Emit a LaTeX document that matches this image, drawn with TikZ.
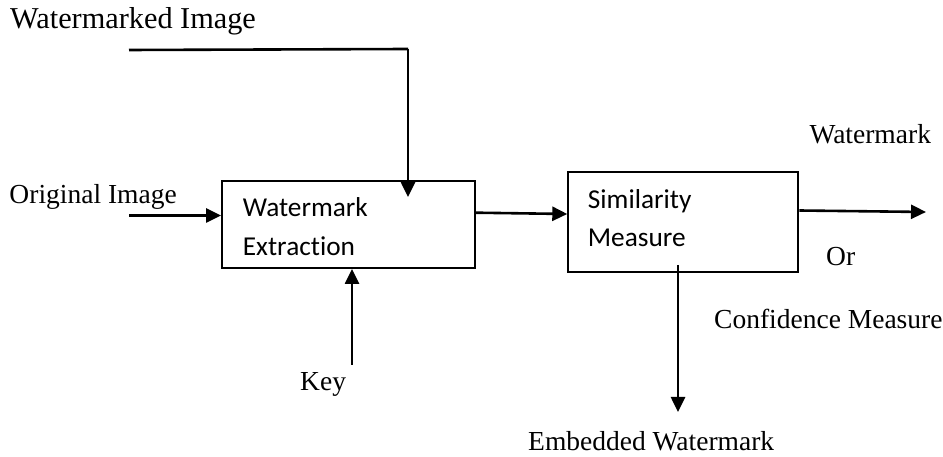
\documentclass[tikz,border=0pt]{standalone}
\usepackage{fontspec}
\setmainfont{Liberation Serif}
\newfontfamily\boxfont[Ligatures=NoCommon]{Carlito}
\usetikzlibrary{arrows.meta}
\tikzset{
  blk/.style={draw, line width=2bp, rectangle, inner sep=0pt},
  lbl/.style={anchor=base west, inner sep=0pt, font=\fontsize{27.5bp}{33bp}\selectfont},
  blbl/.style={anchor=base west, inner sep=0pt, font=\boxfont\fontsize{27.3bp}{32bp}\selectfont},
  conn/.style={line width=2.6bp, -{Triangle[length=15bp,width=14bp]}},
  plain/.style={line width=2.6bp}
}
\begin{document}
\begin{tikzpicture}[x=1bp,y=-1bp]
\useasboundingbox (0,0) rectangle (943,457);
% boxes
\node[blk, minimum width=253bp, minimum height=87bp] (ext) at (348.5,224.5) {};
\node[blk, minimum width=230bp, minimum height=100bp] (sim) at (683.3,221.7) {};
% box texts
\node[blbl] (t1) at (242.7,216.7) {Watermark};
\node[blbl] (t2) at (242.7,256) {Extraction};
\node[blbl] (t3) at (587.7,208.3) {Similarity};
\node[blbl] (t4) at (587.7,246.7) {Measure};
% outside labels
\node[lbl, font=\fontsize{30.3bp}{36bp}\selectfont] (wmi) at (10,28.3) {Watermarked Image};
\node[lbl] (ori) at (9.3,204) {Original Image};
\node[lbl] (key) at (300,390.7) {Key};
\node[lbl] (wm) at (809.3,143.3) {Watermark};
\node[lbl] (or) at (826,266) {Or};
\node[lbl] (conf) at (714,328.3) {Confidence Measure};
\node[lbl] (emb) at (528,450) {Embedded Watermark};
% coordinates for free ends
\coordinate (wstart) at (129,50);
\coordinate (wcorner) at (408,49);
\coordinate (wend) at (408,197);
\coordinate (ostart) at (129,215.5);
\coordinate (kstart) at (352,365);
\coordinate (outend) at (926,212);
\coordinate (embstart) at (678,265);
\coordinate (embend) at (678,412);
% connectors
\draw[plain] (wstart) -- (wcorner);
\draw[conn] (wcorner) -- (wend);
\draw[conn] (ostart) -- (ostart -| ext.west);
\draw[conn] (kstart) -- (kstart |- ext.south);
\draw[conn] (ext.east |- 0,212.7) -- (sim.west |- 0,214);
\draw[conn] (sim.east |- 0,210.5) -- (outend);
\draw[conn] (embstart) -- (embend);
\end{tikzpicture}
\end{document}
